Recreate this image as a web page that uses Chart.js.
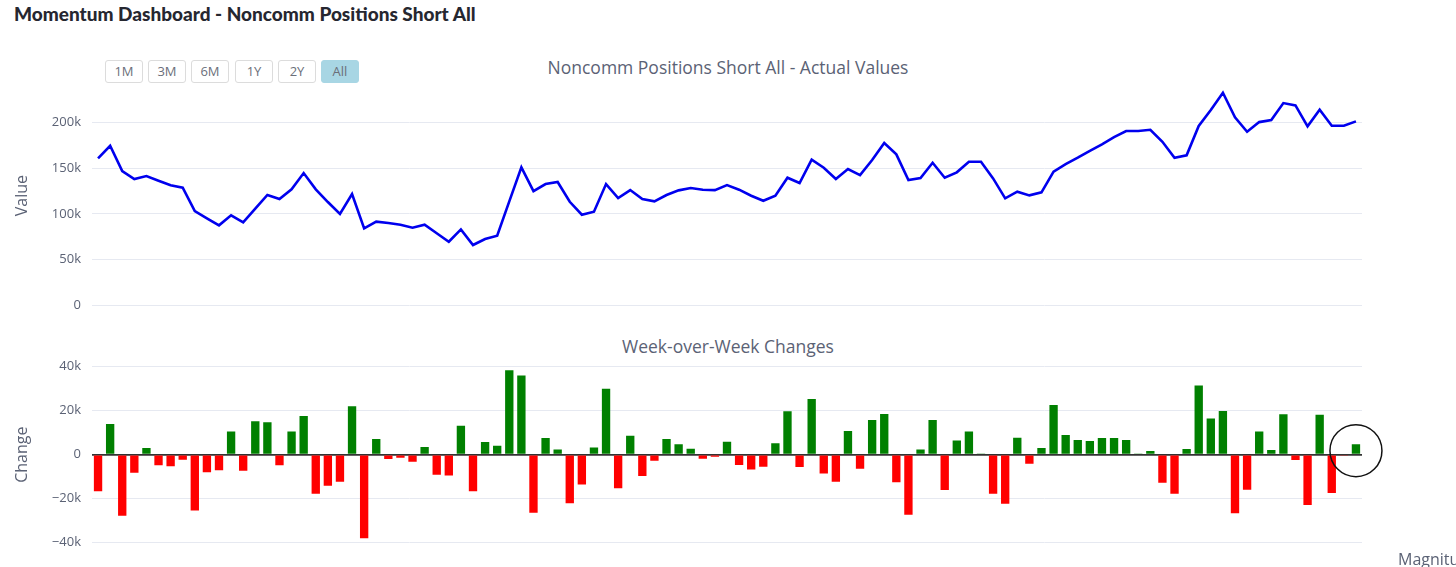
<!DOCTYPE html>
<html>
<head>
<meta charset="utf-8">
<script src="https://cdn.jsdelivr.net/npm/chart.js@4.4.1/dist/chart.umd.min.js"></script>
<style>
  body { margin: 0; width: 1456px; height: 567px; overflow: hidden; background: #fff; font-family: "Open Sans", sans-serif; position: relative; }
  .title { position: absolute; left: 14px; top: 2px; font-family: "Lato", sans-serif; font-weight: 900; font-size: 19px; color: #262730; }
  .btns { position: absolute; left: 105px; top: 60px; }
  .btns span { position: absolute; top: 0; width: 36px; height: 21px; border: 1px solid #dcdcdc; border-radius: 3px; font-size: 13px; color: #6b6f7a; text-align: center; line-height: 21px; background: #fff; }
  .btns span.on { background: #a8d6e4; border-color: #a8d6e4; }
  .sub { position: absolute; width: 1456px; left: 0; text-align: center; font-size: 17.5px; color: #5b6275; }
  canvas { position: absolute; left: 0; }
  .mag { position: absolute; left: 1398px; top: 548px; font-size: 16px; color: #5b6275; white-space: nowrap; }
</style>
</head>
<body>
<div class="title">Momentum Dashboard - Noncomm Positions Short All</div>
<div class="btns">
  <span style="left:0">1M</span>
  <span style="left:43px">3M</span>
  <span style="left:86px">6M</span>
  <span style="left:130px">1Y</span>
  <span style="left:173px">2Y</span>
  <span class="on" style="left:216px">All</span>
</div>
<div class="sub" style="top:55px">Noncomm Positions Short All - Actual Values</div>
<div class="sub" style="top:334px">Week-over-Week Changes</div>
<canvas id="values" width="1456" height="232" style="top:80px"></canvas>
<canvas id="changes" width="1456" height="200" style="top:355px"></canvas>
<div class="mag">Magnitude</div>

<script>
// weekly noncommercial short positions
const positions = [
  160800, 174600, 146900, 138200, 141500, 136300, 131300, 128700, 103200, 95200,
  87500, 98500, 90800, 105700, 120700, 116300, 126900, 144700, 126900, 113000,
  99900, 121800, 84200, 91500, 90000, 88200, 84900, 88200, 78800, 69600,
  83100, 66000, 72500, 76100, 113800, 151000, 125000, 132700, 134900, 113300,
  99100, 102400, 132700, 117400, 126100, 116300, 113800, 120700, 125800, 128300,
  126500, 126100, 131600, 126500, 119900, 114400, 119900, 139600, 133800, 159300,
  150500, 138200, 149100, 142500, 159000, 177600, 165200, 137100, 139300, 156000,
  139600, 145500, 157100, 157100, 138900, 117100, 124300, 120300, 123600, 146200,
  154600, 161500, 169100, 176100, 184100, 190700, 190700, 192100, 179000, 161500,
  164100, 196200, 213700, 232600, 205700, 189900, 200500, 202700, 221300, 218800,
  195800, 214000, 196500, 196500, 201300
];

// week-over-week change
const changes = [
  -16600, 14000, -27700, -8200, 3000, -4800, -5300, -2300, -25400, -8000,
  -7100, 10500, -7300, 15200, 14700, -4800, 10500, 17600, -17700, -14100,
  -12300, 22000, -38000, 7100, -2000, -1400, -3200, 3500, -9100, -9500,
  13200, -16600, 5800, 4100, 38400, 36000, -26400, 7600, 2400, -22100,
  -13600, 3300, 30000, -15300, 8600, -9700, -2700, 7100, 4700, 2700,
  -1800, -900, 5900, -4700, -6700, -5500, 5200, 19700, -5600, 25300,
  -8600, -12300, 10800, -6400, 15800, 18500, -12500, -27300, 2400, 15800,
  -16000, 6500, 10600, 600, -17700, -22300, 7700, -4100, 3000, 22600,
  9000, 6700, 6200, 7600, 7600, 6700, 300, 1700, -12700, -17700,
  2600, 31500, 16400, 19900, -26600, -15900, 10500, 2100, 18400, -2400,
  -22900, 18200, -17400, -300, 4700
];

const weeks = positions.map((_, i) => 'W' + (i + 1));

const valueTicks = [0, 50000, 100000, 150000, 200000];
const changeTicks = [-40000, -20000, 0, 20000, 40000];

const gridColor = '#e6e9f1';
const tickColor = '#5b6275';

function fmtK(v) {
  if (v === 0) return '0';
  const s = Math.abs(v / 1000) + 'k';
  return v < 0 ? '\u2212' + s : s;
}

function yAxis(min, max, ticks, title) {
  return {
    min: min,
    max: max,
    afterBuildTicks: axis => { axis.ticks = ticks.map(v => ({ value: v })) },
    afterFit: axis => {
      axis.width = 92
      // labels may hang over the plot edges, like plotly
      axis.paddingTop = 0
      axis.paddingBottom = 0
    },
    border: { display: false },
    grid: {
      drawTicks: false,
      color: c => (title === 'Change' && c.tick && c.tick.value === 0) ? '#333' : gridColor,
      lineWidth: c => (title === 'Change' && c.tick && c.tick.value === 0) ? 1.8 : 1
    },
    ticks: {
      padding: 11,
      color: tickColor,
      font: { family: 'Open Sans', size: 13 },
      callback: v => fmtK(v)
    },
    title: {
      display: true,
      text: title,
      color: tickColor,
      font: { family: 'Open Sans', size: 16 },
      padding: { top: 13, bottom: 0 }
    }
  };
}

const xAxis = {
  display: false,
  offset: true,
  grid: { display: false }
};

// right edge gap so the plot ends where the reference ends
const rightPad = 1456 - 1362;

new Chart(document.getElementById('values'), {
  type: 'line',
  data: {
    labels: weeks,
    datasets: [{
      data: positions,
      borderColor: '#0000ee',
      borderWidth: 2.6,
      pointRadius: 0,
      tension: 0
    }]
  },
  options: {
    responsive: false,
    animation: false,
    layout: { padding: { left: 0, right: rightPad, top: 6, bottom: 6.7 } },
    plugins: { legend: { display: false }, tooltip: { enabled: false } },
    scales: { x: xAxis, y: yAxis(0, 240000, valueTicks, 'Value') }
  }
});

// circle around the latest bar
const markLatest = {
  id: 'markLatest',
  afterDatasetsDraw(chart) {
    const x = chart.scales.x.getPixelForValue(changes.length - 1);
    const y = chart.scales.y.getPixelForValue(0) - 4;
    const ctx = chart.ctx;
    ctx.save();
    ctx.beginPath();
    ctx.arc(x, y, 26, 0, Math.PI * 2);
    ctx.strokeStyle = '#111';
    ctx.lineWidth = 1.5;
    ctx.stroke();
    ctx.restore();
  }
};

new Chart(document.getElementById('changes'), {
  type: 'bar',
  data: {
    labels: weeks,
    datasets: [{
      data: changes,
      backgroundColor: changes.map(v => v >= 0 ? '#008000' : '#ff0000'),
      categoryPercentage: 1,
      barPercentage: 0.69
    }]
  },
  options: {
    responsive: false,
    animation: false,
    layout: { padding: { left: 0, right: rightPad, top: 7.3, bottom: 7.9 } },
    plugins: { legend: { display: false }, tooltip: { enabled: false } },
    scales: { x: xAxis, y: yAxis(-42000, 42000, changeTicks, 'Change') }
  },
  plugins: [markLatest]
});
</script>
</body>
</html>
